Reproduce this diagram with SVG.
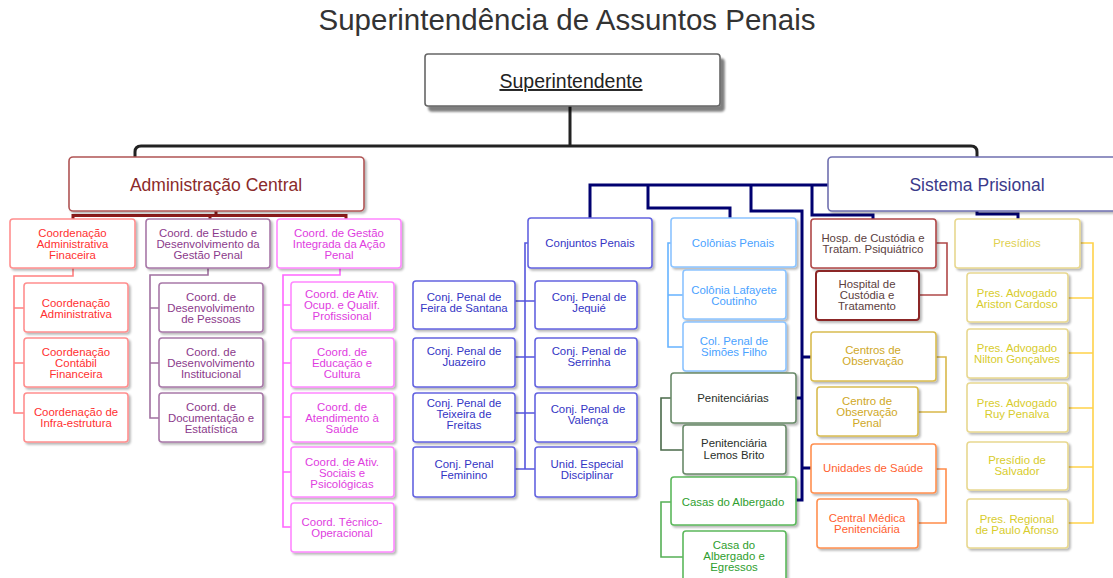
<svg xmlns="http://www.w3.org/2000/svg" width="1113" height="578" viewBox="0 0 1113 578">
<defs>
<filter id="sh" x="-10%" y="-10%" width="130%" height="140%"><feDropShadow dx="2" dy="2" stdDeviation="1.2" flood-color="#000" flood-opacity="0.28"/></filter>
<filter id="shb" x="-10%" y="-10%" width="130%" height="150%"><feDropShadow dx="4" dy="5" stdDeviation="1.2" flood-color="#000" flood-opacity="0.5"/></filter>
</defs>
<style>
text{font-family:"Liberation Sans",Arial,sans-serif;text-anchor:middle}
.s{font-size:11.4px}
.m{font-size:17.5px}
rect{fill:#fff;stroke-width:1.6;filter:url(#sh)}
.c{fill:none;stroke-width:1.6}
.cb{fill:none;stroke-width:3}
.r1{stroke:#ff8f8f}.t1{fill:#ff3030}
.r2{stroke:#a878a8}.t2{fill:#8b3a8b}
.r3{stroke:#ff88ff}.t3{fill:#e03ce0}
.r4{stroke:#6464e0}.t4{fill:#3434c4}
.r5{stroke:#8cc4ff}.t5{fill:#4aa2ff}
.r6{stroke:#6a8a6a}.t6{fill:#2a302a}
.r7{stroke:#5cb85c}.t7{fill:#2e9e2e}
.r8{stroke:#b04848}.t8{fill:#5b4040}
.r9{stroke:#d9bc50}.t9{fill:#cfa826}
.r10{stroke:#ff9050}.t10{fill:#ff6030}
.r11{stroke:#e8d890}.t11{fill:#d8cc2c}
</style>

<text x="567" y="30" style="font-size:29.5px;fill:#333">Superintendência de Assuntos Penais</text>

<g id="connectors">
<path class="cb" stroke="#222" d="M570 106 V146 M135 158 V152 Q135 146 141 146 H971 Q977 146 977 152 V158"/>
<path class="cb" stroke="#8b1a1a" d="M216 211 V215.5 M73 220 V215.5 H346 V220 M210 215.5 V220"/>
<path class="cb" stroke="#000070" d="M828 185 H590 V218 M648 185 V208 H730 V218 M751 185 V211 H802 V500 H796 M802 398 H796 M802 357 H811 M802 468 H811 M812 185 V215 H873 V219 M977 211 V214 H1018 V219"/>
<path class="c" stroke="#ff8080" d="M73 268 V276 H14 V413 H24 M14 308 H24 M14 363 H24"/>
<path class="c" stroke="#a070a0" d="M208 268 V275 H150 V418 H159 M150 308 H159 M150 363 H159"/>
<path class="c" stroke="#ff66ff" d="M340 268 V275 H283 V527 H291 M283 305 H291 M283 363 H291 M283 417 H291 M283 472 H291"/>
<path class="c" stroke="#5555dd" d="M528 243 H525 V469 M515 301 H535 M515 357 H535 M515 413 H535 M515 469 H535"/>
<path class="c" stroke="#66b3ff" d="M671 243 H668 V347 H683 M668 295 H683"/>
<path class="c" stroke="#4a6a4a" d="M671 398 H661 V450 H683"/>
<path class="c" stroke="#55b055" d="M671 502 H661 V557 H683"/>
<path class="c" stroke="#b04848" d="M936 243 H947 V295 H919"/>
<path class="c" stroke="#d9b84a" d="M936 357 H946 V412 H918"/>
<path class="c" stroke="#ff8c4a" d="M936 469 H946 V523 H918"/>
<path class="c" stroke="#ffd24a" d="M1080 243 H1093 V523 H1068 M1068 298 H1093 M1068 353 H1093 M1068 408 H1093 M1068 467 H1093"/>
</g>

<g id="superintendente"><rect x="425" y="54" width="295" height="52" rx="3" style="stroke:#666;filter:url(#shb)"/><text x="571" y="88" style="font-size:19.5px;fill:#222;text-decoration:underline">Superintendente</text></g>
<g id="admin-central"><rect x="69" y="157" width="295" height="54" rx="4" style="stroke:#b05555"/><text class="m" x="216" y="191" style="fill:#8b2a2a">Administração Central</text></g>
<g id="sistema-prisional"><rect x="828" y="157" width="295" height="54" rx="4" style="stroke:#7070b0"/><text class="m" x="977" y="191" style="fill:#3a3a8a">Sistema Prisional</text></g>

<g id="coord-adm-fin"><rect class="r1" x="10" y="219" width="125" height="49" rx="3"/><text class="s t1"><tspan x="72.5" y="237">Coordenação</tspan><tspan x="72.5" y="248">Administrativa</tspan><tspan x="72.5" y="258.5">Finaceira</tspan></text></g>
<g id="coord-administrativa"><rect class="r1" x="24" y="283" width="104" height="49" rx="3"/><text class="s t1"><tspan x="76" y="306.5">Coordenação</tspan><tspan x="76" y="317.5">Administrativa</tspan></text></g>
<g id="coord-contabil"><rect class="r1" x="24" y="338" width="104" height="49" rx="3"/><text class="s t1"><tspan x="76" y="356">Coordenação</tspan><tspan x="76" y="367">Contábil</tspan><tspan x="76" y="378">Financeira</tspan></text></g>
<g id="coord-infra"><rect class="r1" x="24" y="393" width="104" height="49" rx="3"/><text class="s t1"><tspan x="76" y="416">Coordenação de</tspan><tspan x="76" y="427">Infra-estrutura</tspan></text></g>

<g id="coord-estudo"><rect class="r2" x="146" y="219" width="124" height="49" rx="3"/><text class="s t2"><tspan x="208" y="237">Coord. de Estudo e</tspan><tspan x="208" y="248">Desenvolvimento da</tspan><tspan x="208" y="258.5">Gestão Penal</tspan></text></g>
<g id="coord-des-pessoas"><rect class="r2" x="159" y="283" width="104" height="49" rx="3"/><text class="s t2"><tspan x="211" y="301">Coord. de</tspan><tspan x="211" y="312">Desenvolvimento</tspan><tspan x="211" y="323">de Pessoas</tspan></text></g>
<g id="coord-des-inst"><rect class="r2" x="159" y="338" width="104" height="49" rx="3"/><text class="s t2"><tspan x="211" y="356">Coord. de</tspan><tspan x="211" y="367">Desenvolvimento</tspan><tspan x="211" y="378">Institucional</tspan></text></g>
<g id="coord-doc"><rect class="r2" x="159" y="393" width="104" height="49" rx="3"/><text class="s t2"><tspan x="211" y="411">Coord. de</tspan><tspan x="211" y="422">Documentação e</tspan><tspan x="211" y="433">Estatística</tspan></text></g>

<g id="coord-gestao"><rect class="r3" x="277" y="219" width="124" height="49" rx="3"/><text class="s t3"><tspan x="339" y="237">Coord. de Gestão</tspan><tspan x="339" y="248">Integrada da Ação</tspan><tspan x="339" y="258.5">Penal</tspan></text></g>
<g id="coord-ativ-ocup"><rect class="r3" x="291" y="282" width="103" height="48" rx="3"/><text class="s t3"><tspan x="342" y="298">Coord. de  Ativ.</tspan><tspan x="342" y="309">Ocup. e Qualif.</tspan><tspan x="342" y="320">Profissional</tspan></text></g>
<g id="coord-educacao"><rect class="r3" x="291" y="338" width="103" height="49" rx="3"/><text class="s t3"><tspan x="342" y="356">Coord. de</tspan><tspan x="342" y="367">Educação e</tspan><tspan x="342" y="378">Cultura</tspan></text></g>
<g id="coord-saude"><rect class="r3" x="291" y="393" width="103" height="49" rx="3"/><text class="s t3"><tspan x="342" y="411">Coord. de</tspan><tspan x="342" y="422">Atendimento à</tspan><tspan x="342" y="433">Saúde</tspan></text></g>
<g id="coord-ativ-sociais"><rect class="r3" x="291" y="447" width="103" height="50" rx="3"/><text class="s t3"><tspan x="342" y="466">Coord. de  Ativ.</tspan><tspan x="342" y="477">Sociais e</tspan><tspan x="342" y="488">Psicológicas</tspan></text></g>
<g id="coord-tecnico"><rect class="r3" x="291" y="503" width="103" height="49" rx="3"/><text class="s t3"><tspan x="342" y="526">Coord. Técnico-</tspan><tspan x="342" y="537">Operacional</tspan></text></g>

<g id="conjuntos-penais"><rect class="r4" x="528" y="218" width="124" height="50" rx="3"/><text class="s t4" x="590" y="247">Conjuntos Penais</text></g>
<g id="cp-feira"><rect class="r4" x="413" y="281" width="102" height="48" rx="3"/><text class="s t4"><tspan x="464" y="301">Conj. Penal de</tspan><tspan x="464" y="312">Feira de Santana</tspan></text></g>
<g id="cp-juazeiro"><rect class="r4" x="413" y="338" width="102" height="49" rx="3"/><text class="s t4"><tspan x="464" y="355">Conj. Penal de</tspan><tspan x="464" y="366">Juazeiro</tspan></text></g>
<g id="cp-teixeira"><rect class="r4" x="413" y="393" width="102" height="49" rx="3"/><text class="s t4"><tspan x="464" y="407">Conj. Penal de</tspan><tspan x="464" y="418">Teixeira de</tspan><tspan x="464" y="429">Freitas</tspan></text></g>
<g id="cp-feminino"><rect class="r4" x="413" y="447" width="102" height="50" rx="3"/><text class="s t4"><tspan x="464" y="468">Conj. Penal</tspan><tspan x="464" y="479">Feminino</tspan></text></g>
<g id="cp-jequie"><rect class="r4" x="535" y="281" width="102" height="48" rx="3"/><text class="s t4"><tspan x="589" y="301">Conj. Penal de</tspan><tspan x="589" y="312">Jequié</tspan></text></g>
<g id="cp-serrinha"><rect class="r4" x="535" y="338" width="102" height="49" rx="3"/><text class="s t4"><tspan x="589" y="355">Conj. Penal de</tspan><tspan x="589" y="366">Serrinha</tspan></text></g>
<g id="cp-valenca"><rect class="r4" x="535" y="393" width="102" height="49" rx="3"/><text class="s t4"><tspan x="588" y="413">Conj. Penal de</tspan><tspan x="588" y="424">Valença</tspan></text></g>
<g id="unid-especial"><rect class="r4" x="535" y="447" width="102" height="50" rx="3"/><text class="s t4"><tspan x="587" y="468">Unid. Especial</tspan><tspan x="587" y="479">Disciplinar</tspan></text></g>

<g id="colonias-penais"><rect class="r5" x="671" y="218" width="125" height="49" rx="3"/><text class="s t5" x="733" y="247">Colônias Penais</text></g>
<g id="colonia-lafayete"><rect class="r5" x="683" y="270" width="103" height="49" rx="3"/><text class="s t5"><tspan x="734" y="294">Colônia Lafayete</tspan><tspan x="734" y="305">Coutinho</tspan></text></g>
<g id="col-simoes"><rect class="r5" x="683" y="322" width="103" height="49" rx="3"/><text class="s t5"><tspan x="734" y="345">Col. Penal de</tspan><tspan x="734" y="356">Simões Filho</tspan></text></g>
<g id="penitenciarias"><rect class="r6" x="671" y="373" width="125" height="50" rx="3"/><text class="s t6" x="733" y="402">Penitenciárias</text></g>
<g id="lemos-brito"><rect class="r6" x="683" y="425" width="103" height="49" rx="3"/><text class="s t6"><tspan x="734" y="447">Penitenciária</tspan><tspan x="734" y="459">Lemos Brito</tspan></text></g>
<g id="casas-albergado"><rect class="r7" x="671" y="477" width="125" height="48" rx="3"/><text class="s t7" x="733" y="506">Casas do Albergado</text></g>
<g id="casa-albergado-egressos"><rect class="r7" x="683" y="531" width="103" height="52" rx="3"/><text class="s t7"><tspan x="734" y="548.5">Casa do</tspan><tspan x="734" y="559.5">Albergado e</tspan><tspan x="734" y="570.5">Egressos</tspan></text></g>

<g id="hosp-custodia"><rect class="r8" x="811" y="219" width="125" height="49" rx="3"/><text class="s t8"><tspan x="873" y="242">Hosp. de Custódia e</tspan><tspan x="873" y="253">Tratam. Psiquiátrico</tspan></text></g>
<g id="hospital-custodia"><rect x="816" y="271" width="103" height="49" rx="3" style="stroke:#8b2525;stroke-width:2"/><text class="s t8"><tspan x="867" y="288">Hospital de</tspan><tspan x="867" y="299">Custódia e</tspan><tspan x="867" y="310">Tratamento</tspan></text></g>
<g id="centros-observacao"><rect class="r9" x="811" y="332" width="125" height="49" rx="3"/><text class="s t9"><tspan x="873" y="354">Centros de</tspan><tspan x="873" y="365">Observação</tspan></text></g>
<g id="centro-obs-penal"><rect class="r9" x="817" y="387" width="101" height="49" rx="3"/><text class="s t9"><tspan x="867" y="405">Centro de</tspan><tspan x="867" y="416">Observação</tspan><tspan x="867" y="427">Penal</tspan></text></g>
<g id="unidades-saude"><rect class="r10" x="811" y="444" width="125" height="49" rx="3"/><text class="s t10" x="873" y="472">Unidades de Saúde</text></g>
<g id="central-medica"><rect class="r10" x="817" y="499" width="101" height="49" rx="3"/><text class="s t10"><tspan x="867" y="522">Central Médica</tspan><tspan x="867" y="533">Penitenciária</tspan></text></g>

<g id="presidios"><rect class="r11" x="955" y="219" width="125" height="49" rx="3"/><text class="s" x="1017" y="247" style="fill:#e0d050">Presídios</text></g>
<g id="pres-ariston"><rect class="r11" x="967" y="273" width="101" height="49" rx="3"/><text class="s t11"><tspan x="1017" y="297">Pres. Advogado</tspan><tspan x="1017" y="308">Ariston Cardoso</tspan></text></g>
<g id="pres-nilton"><rect class="r11" x="967" y="329" width="101" height="49" rx="3"/><text class="s t11"><tspan x="1017" y="352">Pres. Advogado</tspan><tspan x="1017" y="363">Nilton Gonçalves</tspan></text></g>
<g id="pres-ruy"><rect class="r11" x="967" y="383" width="101" height="49" rx="3"/><text class="s t11"><tspan x="1017" y="407">Pres. Advogado</tspan><tspan x="1017" y="418">Ruy Penalva</tspan></text></g>
<g id="presidio-salvador"><rect class="r11" x="967" y="442" width="101" height="48" rx="3"/><text class="s t11"><tspan x="1017" y="464">Presídio de</tspan><tspan x="1017" y="475">Salvador</tspan></text></g>
<g id="pres-paulo-afonso"><rect class="r11" x="967" y="499" width="101" height="49" rx="3"/><text class="s t11"><tspan x="1017" y="523">Pres. Regional</tspan><tspan x="1017" y="534">de Paulo Afonso</tspan></text></g>
</svg>
